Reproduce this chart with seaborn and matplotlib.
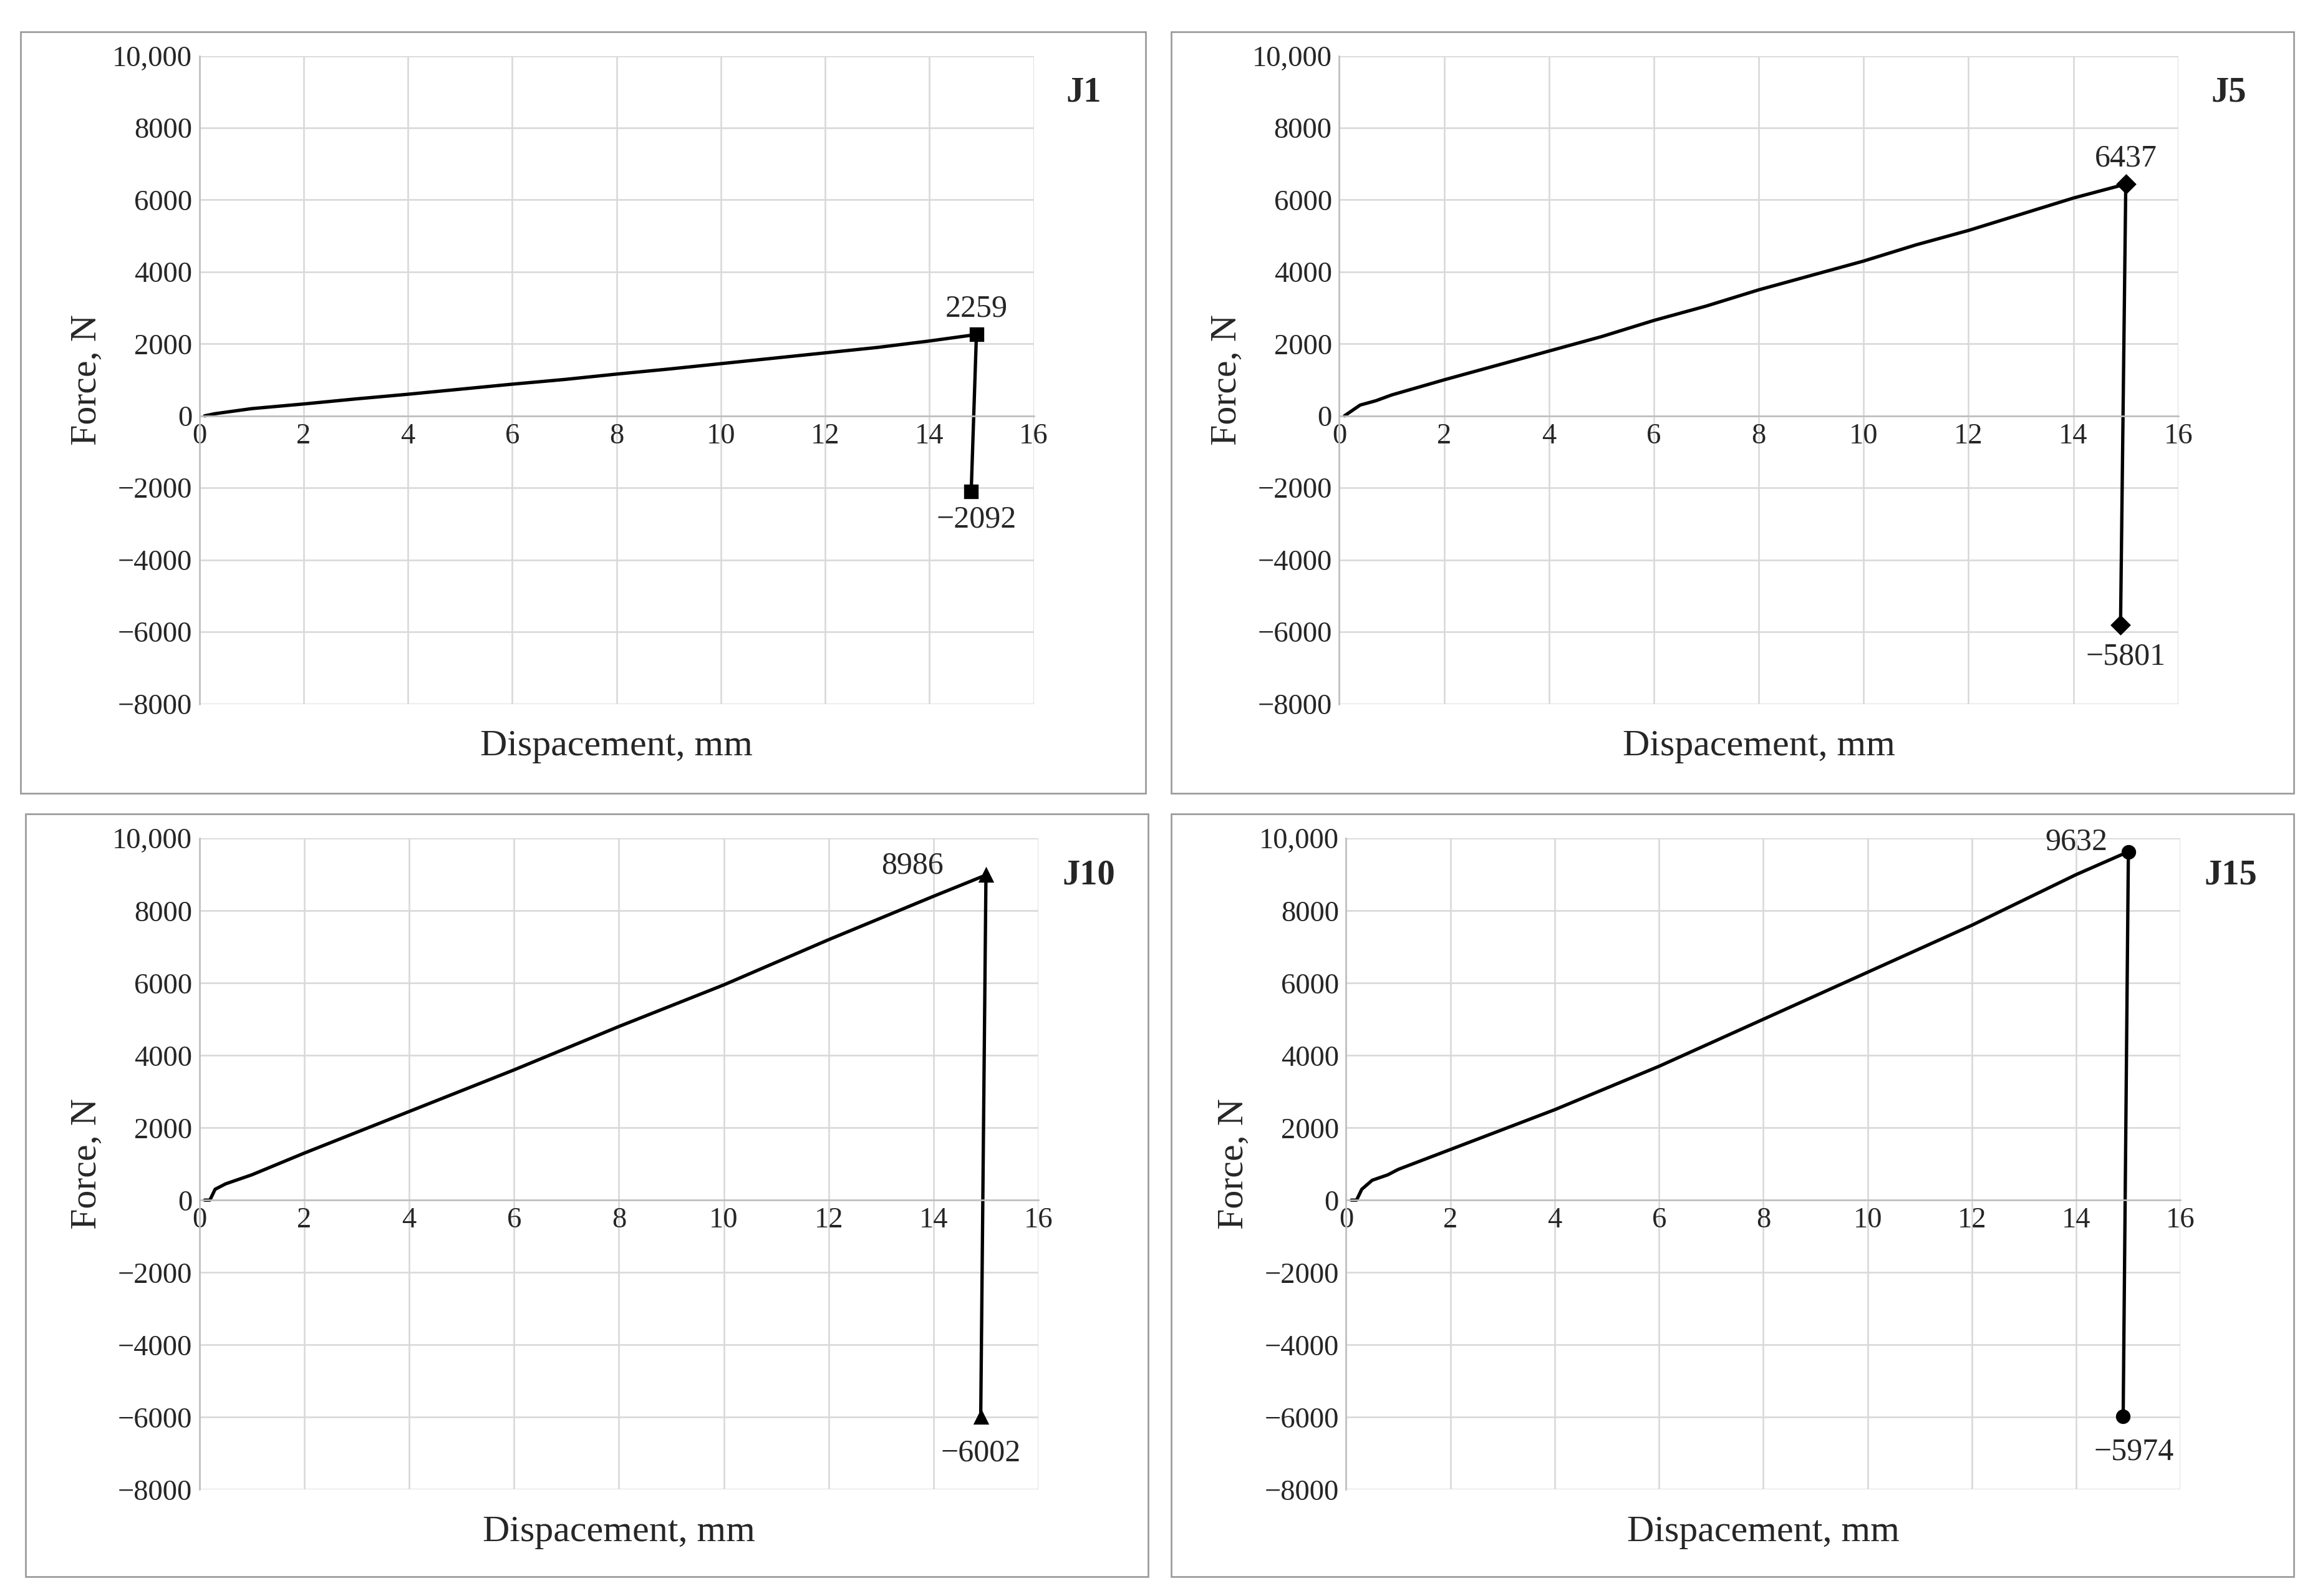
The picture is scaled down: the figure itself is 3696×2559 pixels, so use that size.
import matplotlib
matplotlib.use("Agg")
import matplotlib.pyplot as plt
import seaborn as sns
import pandas as pd
from matplotlib.patches import Rectangle
from matplotlib.ticker import FuncFormatter

sns.set_style("white")
plt.rcParams['font.family'] = ['Liberation Serif', 'DejaVu Serif']

j1_x = [0.1, 0.3, 0.6, 1, 2, 3, 4, 5, 6, 7, 8, 9, 10, 11, 12, 13, 14, 14.9, 14.8]
j1_y = [0, 60, 120, 200, 330, 470, 600, 740, 880, 1010, 1160, 1300, 1450, 1600, 1750, 1900, 2080, 2259, -2092]
j5_x = [0.1, 0.2, 0.4, 0.7, 1, 2, 3, 4, 5, 6, 7, 8, 9, 10, 11, 12, 13, 14, 15, 14.9]
j5_y = [0, 100, 300, 420, 580, 1000, 1400, 1800, 2200, 2650, 3050, 3500, 3900, 4300, 4750, 5150, 5600, 6050, 6437, -5801]
j10_x = [0.1, 0.2, 0.3, 0.5, 0.8, 1, 2, 4, 6, 8, 10, 12, 14, 15, 14.9]
j10_y = [0, 0, 300, 450, 600, 700, 1300, 2450, 3600, 4800, 5950, 7200, 8400, 8986, -6002]
j15_x = [0.1, 0.2, 0.3, 0.5, 0.8, 1, 2, 4, 6, 8, 10, 12, 14, 15, 14.9]
j15_y = [0, 0, 300, 550, 700, 850, 1400, 2500, 3700, 5000, 6300, 7600, 9000, 9632, -5974]
names = ["J1", "J5", "J10", "J15"]
markers = ["s", "D", "^", "o"]

panels = [(j1_x, j1_y), (j5_x, j5_y), (j10_x, j10_y), (j15_x, j15_y)]
axpos = [(0.0865, 0.559, 0.362, 0.406), (0.581, 0.559, 0.364, 0.406),
         (0.0865, 0.0667, 0.364, 0.408), (0.584, 0.0667, 0.362, 0.408)]
frames = [(0.009, 0.503, 0.488, 0.477), (0.508, 0.503, 0.487, 0.477),
          (0.011, 0.012, 0.487, 0.478), (0.508, 0.012, 0.487, 0.478)]
peak_off = [(0.0, 500), (0.0, 500), (-1.4, 50), (-1.0, 50)]
min_off = [(0.1, -1000), (0.1, -1100), (0.0, -1200), (0.2, -1200)]

fig = plt.figure(figsize=(15.4, 10.6625), dpi=240)
for fr in frames:
    fig.add_artist(Rectangle(fr[:2], fr[2], fr[3], transform=fig.transFigure,
                             fill=False, edgecolor="#999999", lw=0.8))

fmt = FuncFormatter(lambda v, p: "10,000" if v == 10000 else ("0" if v == 0 else f"{int(v)}".replace("-", "\u2212")))

for i, (xs, ys) in enumerate(panels):
    ax = fig.add_axes(axpos[i])
    df = pd.DataFrame({"x": xs, "y": ys})
    sns.lineplot(data=df, x="x", y="y", sort=False, color="black", lw=1.6, ax=ax, estimator=None)
    ax.plot([xs[-2], xs[-1]], [ys[-2], ys[-1]], ls="none", marker=markers[i], color="black", ms=6)
    ax.set_xlim(0, 16)
    ax.set_ylim(-8000, 10000)
    ax.set_xticks(range(0, 17, 2))
    ax.set_yticks(range(-8000, 10001, 2000))
    ax.yaxis.set_major_formatter(fmt)
    ax.grid(True, color="#d9d9d9", lw=0.8)
    for s in ["top", "right"]:
        ax.spines[s].set_visible(False)
    ax.spines["left"].set_color("#bfbfbf")
    ax.spines["bottom"].set_color("#bfbfbf")
    ax.spines["bottom"].set_position(("data", 0))
    ax.tick_params(length=0, labelsize=14)
    ax.set_xlabel("Dispacement, mm", fontsize=18)
    ax.xaxis.set_label_coords(0.5, -0.04)
    ax.set_ylabel("Force, N", fontsize=18)
    ax.text(xs[-2] + peak_off[i][0], ys[-2] + peak_off[i][1], f"{ys[-2]}", ha="center", fontsize=15)
    ax.text(xs[-1] + min_off[i][0], ys[-1] + min_off[i][1], f"{ys[-1]}".replace("-", "\u2212"), ha="center", fontsize=15)
    ax.text(1.06, 0.93, names[i], transform=ax.transAxes, fontsize=17, fontweight="bold", ha="center")

fig.savefig("out.png", dpi=240)
